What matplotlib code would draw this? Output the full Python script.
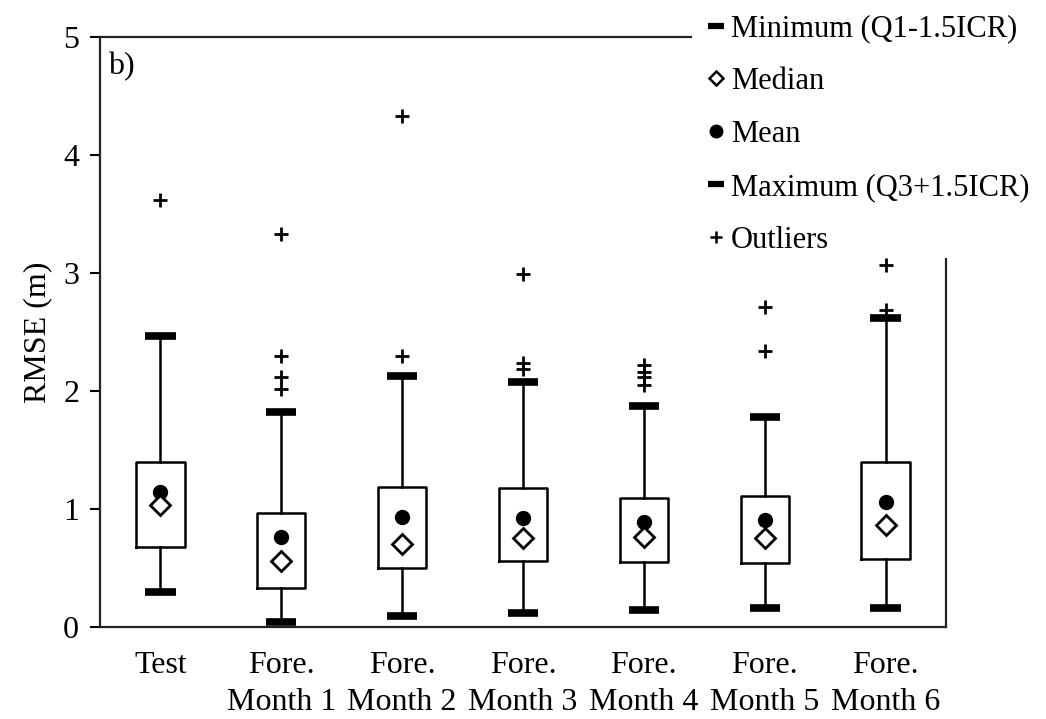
import matplotlib

matplotlib.use("Agg")
import matplotlib.pyplot as plt
from matplotlib.lines import Line2D
from matplotlib.patches import Rectangle

# RMSE summary per evaluation period
labels = ["Test", "Fore.\nMonth 1", "Fore.\nMonth 2", "Fore.\nMonth 3",
          "Fore.\nMonth 4", "Fore.\nMonth 5", "Fore.\nMonth 6"]
whisker_low = [0.30, 0.04, 0.09, 0.12, 0.14, 0.16, 0.16]
q1 = [0.68, 0.33, 0.50, 0.56, 0.55, 0.54, 0.58]
median = [1.03, 0.56, 0.70, 0.75, 0.76, 0.75, 0.86]
mean = [1.14, 0.76, 0.93, 0.92, 0.89, 0.91, 1.06]
q3 = [1.40, 0.97, 1.19, 1.18, 1.09, 1.11, 1.40]
whisker_high = [2.47, 1.82, 2.13, 2.08, 1.87, 1.78, 2.62]
outliers = [
    [3.62],
    [3.33, 2.30, 2.12, 2.02],
    [4.33, 2.30],
    [2.99, 2.24, 2.19],
    [2.22, 2.16, 2.12, 2.05],
    [2.71, 2.34],
    [3.07, 2.69],
]

plt.rcParams.update({
    "font.family": ["Liberation Serif", "DejaVu Serif"],
    "font.size": 23,
})

fig = plt.figure(figsize=(10.46, 7.19), dpi=100)
ax = fig.add_axes([0.0956, 0.128, 0.8088, 0.8205])

stats = []
for i, name in enumerate(labels):
    stats.append({
        "label": name,
        "whislo": whisker_low[i],
        "q1": q1[i],
        "med": median[i],
        "mean": mean[i],
        "q3": q3[i],
        "whishi": whisker_high[i],
        "fliers": outliers[i],
    })

positions = list(range(1, len(labels) + 1))
ax.bxp(
    stats,
    positions=positions,
    widths=0.40,
    capwidths=0.25,
    showmeans=False,
    boxprops={"color": "black", "linewidth": 1.8},
    whiskerprops={"color": "black", "linewidth": 1.8},
    capprops={"color": "black", "linewidth": 5.5, "solid_capstyle": "butt"},
    medianprops={"linewidth": 0},
    flierprops={"marker": "+", "markersize": 10, "markeredgewidth": 2,
                "markeredgecolor": "black"},
)
ax.plot(positions, mean, "o", color="black", markersize=10, linestyle="none", zorder=4)
ax.plot(positions, median, "D", markerfacecolor="white", markeredgecolor="black",
        markeredgewidth=2, markersize=10, linestyle="none", zorder=4)

ax.set_xlim(0.5, 7.5)
ax.set_ylim(0, 5)
ax.set_yticks([0, 1, 2, 3, 4, 5])
ax.set_xticks(positions)
ax.set_xticklabels(labels, linespacing=1.38)
ax.tick_params(axis="x", length=0, pad=17)
ax.tick_params(axis="y", direction="out", length=7, width=1.5, pad=8)
for spine in ax.spines.values():
    spine.set_linewidth(1.6)
    spine.set_color("#222222")
ax.set_ylabel("RMSE (m)", labelpad=8)
ax.text(0.01, 0.975, "b)", transform=ax.transAxes, ha="left", va="top")

# white panel behind the legend so it sits over the frame corner
fig.patches.append(Rectangle((0.6616, 0.641), 0.34, 0.36, transform=fig.transFigure,
                             facecolor="white", edgecolor="none", zorder=2))

handles = [
    Line2D([], [], marker="_", color="black", markersize=11, markeredgewidth=4.5, linestyle="none"),
    Line2D([], [], marker="D", markerfacecolor="white", markeredgecolor="black",
           markeredgewidth=1.8, markersize=7, linestyle="none"),
    Line2D([], [], marker="o", color="black", markersize=9, linestyle="none"),
    Line2D([], [], marker="_", color="black", markersize=11, markeredgewidth=4.5, linestyle="none"),
    Line2D([], [], marker="+", color="black", markersize=9, markeredgewidth=1.8, linestyle="none"),
]
names = ["Minimum (Q1-1.5ICR)", "Median", "Mean", "Maximum (Q3+1.5ICR)", "Outliers"]
leg = fig.legend(handles, names, loc="upper left", bbox_to_anchor=(0.6654, 0.995),
                 frameon=False, fontsize=22, handlelength=0.6, handletextpad=0.2,
                 labelspacing=0.78, borderpad=0.35, borderaxespad=0)
leg.set_zorder(3)

fig.savefig("out.png", dpi=100)
